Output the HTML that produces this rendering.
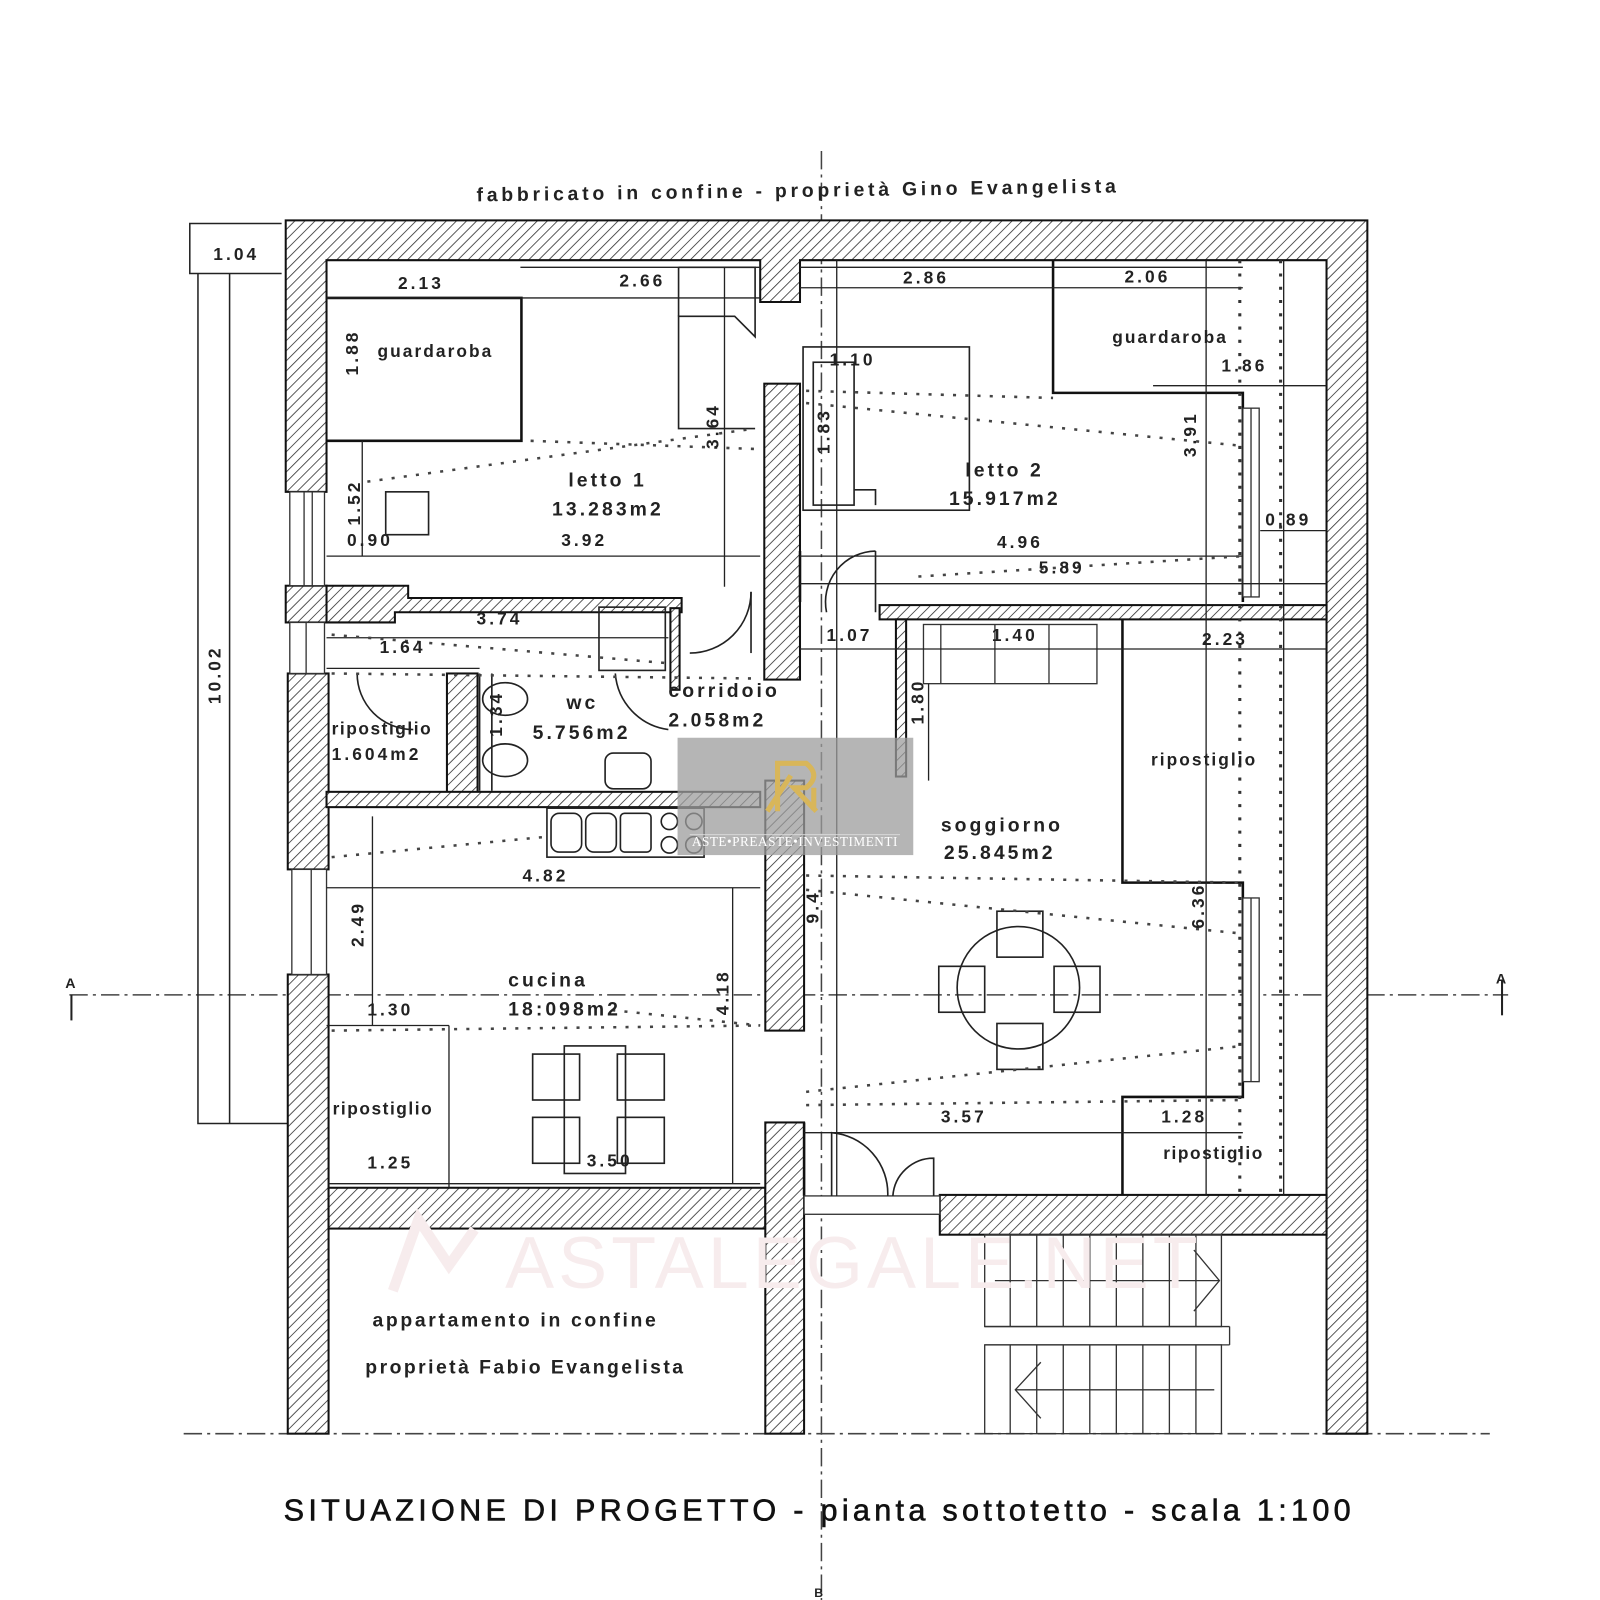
<!DOCTYPE html>
<html><head><meta charset="utf-8"><style>
html,body{margin:0;padding:0;background:#fff}
svg{display:block}
text{font-family:"Liberation Sans",sans-serif;font-weight:bold;fill:#222}
.d{font-size:17px;letter-spacing:3px}
.r{font-size:19px;letter-spacing:3px}
</style></head><body>
<svg width="1600" height="1600" viewBox="0 0 1568 1568" xmlns="http://www.w3.org/2000/svg">
<defs>
<pattern id="h" width="7" height="7" patternUnits="userSpaceOnUse" patternTransform="rotate(45)">
<rect width="7" height="7" fill="#fff"/><line x1="0" y1="0" x2="0" y2="7" stroke="#333" stroke-width="1.6"/>
</pattern>
</defs>
<rect width="1568" height="1568" fill="#fff"/>

<g stroke="#444" stroke-width="1.5" stroke-dasharray="18 5 3 5" fill="none">
<line x1="805" y1="148" x2="805" y2="1568"/>
<line x1="68" y1="975" x2="1478" y2="975"/>
<line x1="180" y1="1405" x2="1460" y2="1405"/>
</g>
<text x="64" y="968" style="font-size:14px">A</text>
<line x1="70" y1="975" x2="70" y2="1000" stroke="#222" stroke-width="2"/>
<text x="1466" y="964" style="font-size:14px">A</text>
<line x1="1472" y1="960" x2="1472" y2="995" stroke="#222" stroke-width="2"/>

<text x="467" y="193" style="font-size:19px;letter-spacing:3.7px" transform="rotate(-0.8 780 185)">fabbricato in confine - proprietà Gino Evangelista</text>

<g stroke="#222" stroke-width="1.5" fill="none">
<polyline points="276,219 186,219 186,268 276,268"/>
<polyline points="194,268 194,1101 284,1101"/>
<line x1="225" y1="268" x2="225" y2="1101"/>
</g>
<text x="209" y="255" class="d">1.04</text>
<text x="0" y="0" class="d" transform="translate(216 690) rotate(-90)">10.02</text>

<g fill="url(#h)" stroke="#111" stroke-width="2">
<polygon points="280,216 1340,216 1340,1405 1300,1405 1300,255 784,255 784,296 745,296 745,255 320,255 320,482 280,482"/>
<rect x="280" y="574" width="40" height="36"/>
<polygon points="320,574 400,574 400,586 668,586 668,600 387,600 387,610 320,610"/>
<rect x="282" y="660" width="40" height="192"/>
<rect x="438" y="660" width="30" height="117"/>
<rect x="320" y="776" width="425" height="15"/>
<rect x="657" y="596" width="9" height="80"/>
<rect x="749" y="376" width="35" height="290"/>
<rect x="750" y="765" width="38" height="245"/>
<rect x="282" y="955" width="40" height="450"/>
<rect x="322" y="1164" width="428" height="40"/>
<rect x="750" y="1100" width="38" height="305"/>
<rect x="921" y="1171" width="379" height="39"/>
<rect x="862" y="593" width="438" height="14"/>
<rect x="878" y="607" width="10" height="154"/>
</g>

<g stroke="#111" stroke-width="2.5" fill="none">
<polyline points="320,292 511,292 511,432 320,432"/>
<polyline points="1032,255 1032,385 1218,385 1218,590"/>
<polyline points="1100,607 1100,865 1218,865 1218,1075 1100,1075 1100,1171"/>
<line x1="784" y1="540" x2="784" y2="590"/>
<line x1="788" y1="1100" x2="788" y2="1172"/>
</g>
<g stroke="#333" stroke-width="1.3" fill="#fff">
<rect x="284" y="482" width="34" height="92"/><line x1="298" y1="482" x2="298" y2="574"/><line x1="306" y1="482" x2="306" y2="574"/>
<rect x="284" y="610" width="34" height="50"/><line x1="300" y1="610" x2="300" y2="660"/>
<rect x="286" y="852" width="34" height="103"/><line x1="305" y1="852" x2="305" y2="955"/>
<rect x="1218" y="400" width="16" height="185"/><line x1="1226" y1="400" x2="1226" y2="585"/>
<rect x="1218" y="880" width="16" height="180"/><line x1="1226" y1="880" x2="1226" y2="1060"/>
<rect x="905" y="612" width="170" height="58"/><line x1="922" y1="612" x2="922" y2="670"/><line x1="975" y1="612" x2="975" y2="670"/><line x1="1028" y1="612" x2="1028" y2="670"/>
<rect x="788" y="1172" width="133" height="18"/>
</g>

<g stroke="#222" stroke-width="1.6" fill="none">
<polyline points="665,262 740,262 740,330 720,310 665,310 665,420 740,420"/>
<line x1="665" y1="310" x2="665" y2="262"/>
<rect x="787" y="340" width="163" height="160"/>
<rect x="797" y="355" width="40" height="140"/>
<polyline points="837,480 858,480 858,495"/>
<rect x="378" y="482" width="42" height="42"/>
<rect x="587" y="595" width="65" height="62"/>
<rect x="593" y="738" width="45" height="35" rx="8"/>
<ellipse cx="495" cy="685" rx="22" ry="16"/><ellipse cx="495" cy="745" rx="22" ry="16"/>
<line x1="470" y1="660" x2="470" y2="775"/><line x1="482" y1="660" x2="482" y2="775"/>
<rect x="536" y="792" width="154" height="48"/>
<rect x="540" y="797" width="30" height="38" rx="8"/><rect x="574" y="797" width="30" height="38" rx="8"/><rect x="608" y="797" width="30" height="38" rx="4"/>
<circle cx="656" cy="805" r="8"/><circle cx="656" cy="828" r="8"/><circle cx="680" cy="805" r="8"/><circle cx="680" cy="828" r="8"/>
<circle cx="998" cy="968" r="60"/>
<rect x="977" y="893" width="45" height="45"/><rect x="977" y="1003" width="45" height="45"/>
<rect x="920" y="947" width="45" height="45"/><rect x="1033" y="947" width="45" height="45"/>
<rect x="522" y="1033" width="46" height="45"/><rect x="605" y="1033" width="46" height="45"/>
<rect x="522" y="1095" width="46" height="45"/><rect x="605" y="1095" width="46" height="45"/>
<rect x="553" y="1025" width="60" height="125"/>
<path d="M676,640 A60,60 0 0 0 736,580"/><line x1="736" y1="580" x2="736" y2="640"/>
<path d="M603,660 A60,60 0 0 0 655,715"/>
<path d="M350,660 A55,55 0 0 0 405,715"/>
<path d="M810,600 A50,50 0 0 1 858,540"/><line x1="858" y1="540" x2="858" y2="600"/>
<path d="M815,1172 L815,1110 A60,60 0 0 1 870,1172"/>
<path d="M915,1172 L915,1135 A40,40 0 0 0 875,1172"/>
</g>

<g stroke="#333" stroke-width="1.3" fill="none">
<rect x="965" y="1210" width="232" height="90"/>
<rect x="965" y="1318" width="232" height="87"/>
<line x1="965" y1="1300" x2="1205" y2="1300"/><line x1="965" y1="1318" x2="1205" y2="1318"/><line x1="1205" y1="1300" x2="1205" y2="1318"/>
<path d="M990,1210V1300M1016,1210V1300M1042,1210V1300M1068,1210V1300M1094,1210V1300M1120,1210V1300M1146,1210V1300M1172,1210V1300"/>
<path d="M990,1318V1405M1016,1318V1405M1042,1318V1405M1068,1318V1405M1094,1318V1405M1120,1318V1405M1146,1318V1405M1172,1318V1405"/>
<line x1="975" y1="1255" x2="1195" y2="1255"/><polyline points="1170,1225 1195,1255 1170,1285"/>
<line x1="995" y1="1362" x2="1190" y2="1362"/><polyline points="1020,1335 995,1362 1020,1390"/>
</g>

<g stroke="#222" stroke-width="1.3" fill="none">
<line x1="320" y1="292" x2="745" y2="292"/>
<line x1="510" y1="262" x2="745" y2="262"/>
<line x1="784" y1="262" x2="1218" y2="262"/>
<line x1="784" y1="282" x2="1218" y2="282"/>
<line x1="320" y1="545" x2="745" y2="545"/>
<line x1="784" y1="545" x2="1218" y2="545"/>
<line x1="784" y1="572" x2="1300" y2="572"/>
<line x1="320" y1="625" x2="655" y2="625"/>
<line x1="320" y1="655" x2="470" y2="655"/>
<line x1="784" y1="636" x2="1300" y2="636"/>
<line x1="320" y1="870" x2="745" y2="870"/>
<line x1="320" y1="1005" x2="440" y2="1005"/>
<line x1="322" y1="1160" x2="745" y2="1160"/>
<line x1="788" y1="1110" x2="1218" y2="1110"/>
<line x1="1130" y1="378" x2="1300" y2="378"/>
<line x1="1235" y1="520" x2="1300" y2="520"/>
<line x1="355" y1="432" x2="355" y2="545"/>
<line x1="710" y1="262" x2="710" y2="575"/>
<line x1="718" y1="870" x2="718" y2="1160"/>
<line x1="365" y1="800" x2="365" y2="1005"/>
<line x1="440" y1="1005" x2="440" y2="1164"/>
<line x1="1182" y1="255" x2="1182" y2="1171"/>
<line x1="1258" y1="255" x2="1258" y2="1171"/>
<line x1="820" y1="255" x2="820" y2="1172"/>
<line x1="910" y1="670" x2="910" y2="765"/>
</g>
<g stroke="#333" stroke-width="3" stroke-dasharray="3 10" fill="none">
<line x1="1215" y1="255" x2="1215" y2="1171"/>
<line x1="1255" y1="255" x2="1255" y2="1171"/>
</g>
<g stroke="#444" stroke-width="2.5" stroke-dasharray="3 9" fill="none">
<line x1="360" y1="472" x2="740" y2="420"/>
<line x1="520" y1="432" x2="740" y2="440"/>
<line x1="790" y1="383" x2="1032" y2="390"/>
<line x1="790" y1="395" x2="1218" y2="437"/>
<line x1="900" y1="565" x2="1218" y2="545"/>
<line x1="325" y1="622" x2="655" y2="650"/>
<line x1="325" y1="660" x2="745" y2="665"/>
<line x1="325" y1="840" x2="536" y2="820"/>
<line x1="325" y1="1010" x2="745" y2="1005"/>
<line x1="600" y1="990" x2="745" y2="1005"/>
<line x1="790" y1="858" x2="1218" y2="865"/>
<line x1="790" y1="872" x2="1218" y2="915"/>
<line x1="790" y1="1070" x2="1218" y2="1025"/>
<line x1="790" y1="1083" x2="1218" y2="1078"/>
</g>

<text x="390" y="283" class="d">2.13</text>
<text x="607" y="281" class="d">2.66</text>
<text x="885" y="278" class="d">2.86</text>
<text x="1102" y="277" class="d">2.06</text>
<text x="0" y="0" class="d" transform="translate(351 368) rotate(-90)">1.88</text>
<text x="370" y="350" style="font-size:17px;letter-spacing:2px">guardaroba</text>
<text x="1090" y="336" style="font-size:17px;letter-spacing:2px">guardaroba</text>
<text x="1197" y="364" class="d">1.86</text>
<text x="0" y="0" class="d" transform="translate(704 440) rotate(-90)">3.64</text>
<text x="0" y="0" class="d" transform="translate(1172 448) rotate(-90)">3.91</text>
<text x="0" y="0" class="d" transform="translate(353 515) rotate(-90)">1.52</text>
<text x="0" y="0" class="d" transform="translate(813 445) rotate(-90)">1.83</text>
<text x="813" y="358" class="d">1.10</text>
<text x="557" y="477" class="r">letto 1</text>
<text x="541" y="505" class="r">13.283m2</text>
<text x="946" y="467" class="r">letto 2</text>
<text x="930" y="495" class="r">15.917m2</text>
<text x="550" y="535" class="d">3.92</text>
<text x="340" y="535" class="d">0.90</text>
<text x="977" y="537" class="d">4.96</text>
<text x="1018" y="562" class="d">5.89</text>
<text x="1240" y="515" class="d">0.89</text>
<text x="467" y="612" class="d">3.74</text>
<text x="372" y="640" class="d">1.64</text>
<text x="810" y="628" class="d">1.07</text>
<text x="972" y="628" class="d">1.40</text>
<text x="1178" y="632" class="d">2.23</text>
<text x="0" y="0" class="d" transform="translate(905 710) rotate(-90)">1.80</text>
<text x="555" y="695" class="r">wc</text>
<text x="522" y="724" class="r">5.756m2</text>
<text x="655" y="683" class="r">corridoio</text>
<text x="655" y="712" class="r">2.058m2</text>
<text x="325" y="720" style="font-size:17px;letter-spacing:1.5px">ripostiglio</text>
<text x="325" y="745" class="d">1.604m2</text>
<text x="0" y="0" class="d" transform="translate(492 722) rotate(-90)">1.34</text>
<text x="1128" y="750" style="font-size:17px;letter-spacing:2px">ripostiglio</text>
<text x="922" y="815" class="r">soggiorno</text>
<text x="925" y="842" class="r">25.845m2</text>
<text x="0" y="0" class="d" transform="translate(1180 910) rotate(-90)">6.36</text>
<text x="0" y="0" class="d" transform="translate(802 905) rotate(-90)">9.4</text>
<text x="512" y="864" class="d">4.82</text>
<text x="0" y="0" class="d" transform="translate(356 928) rotate(-90)">2.49</text>
<text x="498" y="967" class="r">cucina</text>
<text x="498" y="995" class="r">18:098m2</text>
<text x="360" y="995" class="d">1.30</text>
<text x="0" y="0" class="d" transform="translate(714 995) rotate(-90)">4.18</text>
<text x="326" y="1092" style="font-size:17px;letter-spacing:1.5px">ripostiglio</text>
<text x="360" y="1145" class="d">1.25</text>
<text x="575" y="1143" class="d">3.50</text>
<text x="922" y="1100" class="d">3.57</text>
<text x="1138" y="1100" class="d">1.28</text>
<text x="1140" y="1136" style="font-size:17px;letter-spacing:1.5px">ripostiglio</text>

<text x="495" y="1262" style="font-size:72px;letter-spacing:4px;fill:#f7eced;font-weight:normal">ASTALEGALE.NET</text>
<path d="M385,1265 L410,1195 L440,1240 L465,1205" stroke="#f7eced" stroke-width="10" fill="none"/>

<text x="365" y="1300" style="font-size:19px;letter-spacing:2.6px">appartamento in confine</text>
<text x="358" y="1346" style="font-size:19px;letter-spacing:2.4px">proprietà Fabio Evangelista</text>

<text x="278" y="1490" style="font-size:30px;letter-spacing:4.2px;font-weight:normal;fill:#111;stroke:#111;stroke-width:0.6">SITUAZIONE DI PROGETTO - pianta sottotetto - scala 1:100</text>
<text x="798" y="1565" style="font-size:12px">B</text>

<rect x="664" y="723" width="231" height="115" fill="#9c9c9c" opacity="0.75"/>
<path d="M762,795 L762,748 L790,748 Q805,760 790,772 L778,772 L800,795 M752,795 L775,760" stroke="#d8b65a" stroke-width="5" fill="none"/>
<rect x="795" y="772" width="5" height="22" fill="#d8b65a"/>
<text x="779" y="829" text-anchor="middle" style="font-family:'Liberation Serif',serif;font-weight:normal;font-size:13px;fill:#fff;letter-spacing:0.5px">ASTE•PREASTE•INVESTIMENTI</text>
<line x1="676" y1="818" x2="882" y2="818" stroke="#ddd" stroke-width="0.8"/>
</svg>
</body></html>
